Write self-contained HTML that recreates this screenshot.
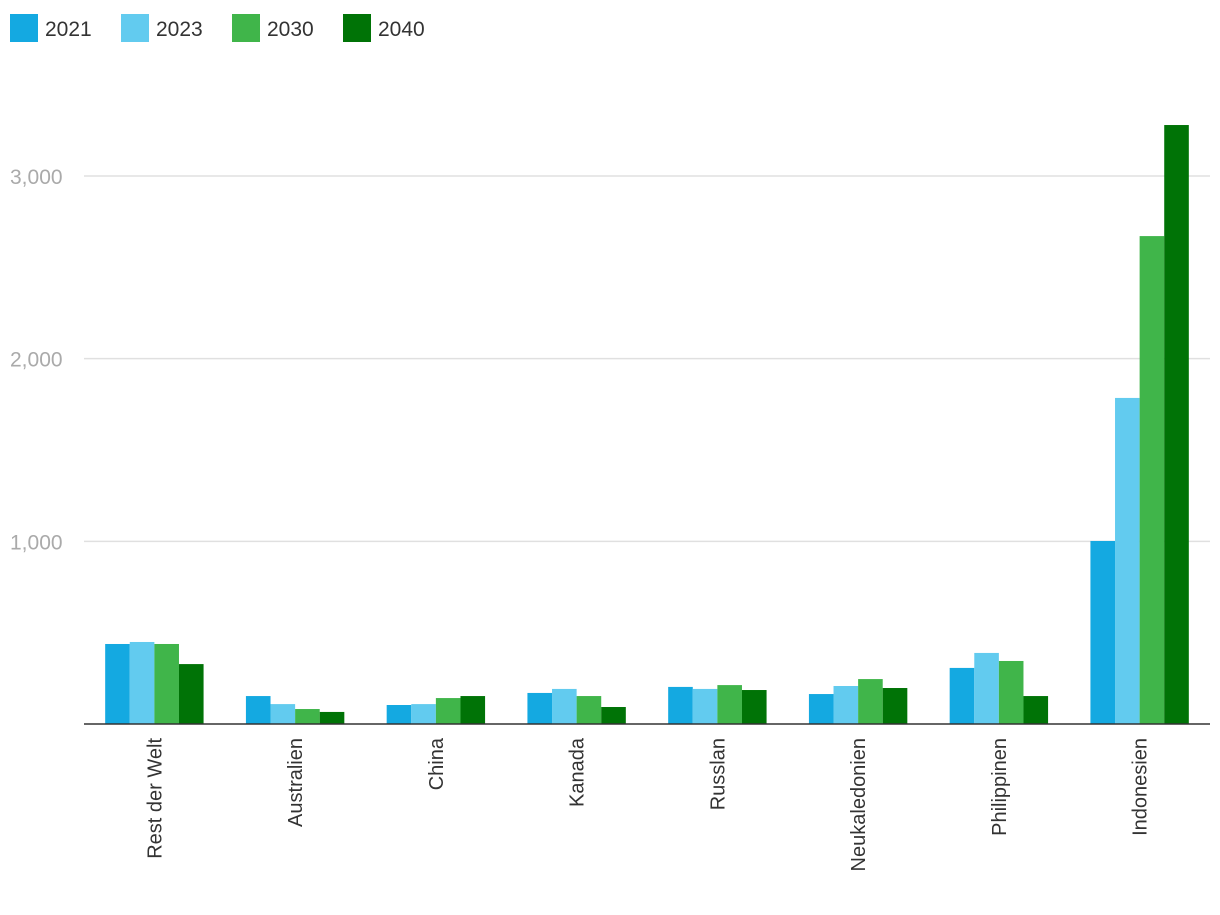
<!DOCTYPE html>
<html><head><meta charset="utf-8"><style>
body{margin:0;background:#fff;font-family:"Liberation Sans",sans-serif;}
svg text{font-family:"Liberation Sans",sans-serif;}
</style></head><body>
<svg id="chart" width="1220" height="910"></svg>
<script>
const categories=["Rest der Welt","Australien","China","Kanada","Russlan","Neukaledonien","Philippinen","Indonesien"];
const seriesNames=["2021","2023","2030","2040"];
const colors=["#14a9e1","#62cbef","#40b54a","#007306"];
const s2021=[438,153,104,170,203,164,307,1002];
const s2023=[449,109,109,192,192,208,389,1785];
const s2030=[438,82,142,153,213,246,345,2671];
const s2040=[328,66,153,93,186,197,153,3279];
const yTicks=[1000,2000,3000];
const yTickLabels=["1,000","2,000","3,000"];
const series=[s2021,s2023,s2030,s2040];
const NS="http://www.w3.org/2000/svg";
const svg=document.getElementById('chart');
const x0=84,x1=1210,y0=724,pxPer=0.18267;
const gw=(x1-x0)/categories.length,bw=24.6;
const yScale=v=>y0-v*pxPer;
function mk(t,a){const e=document.createElementNS(NS,t);for(const k in a)e.setAttribute(k,a[k]);svg.appendChild(e);return e;}
yTicks.forEach((v,i)=>{
 const l=mk('line',{x1:x0,x2:x1,y1:yScale(v),y2:yScale(v),stroke:'#e0e0e0','stroke-width':1.5});
 
 
 const t=mk('text',{x:10,y:yScale(v)+8,fill:'#aaaaaa','font-size':21});
 t.textContent=yTickLabels[i];
 
 
});
categories.forEach((c,ci)=>{
 const cx=x0+gw*(ci+0.5);
 series.forEach((s,si)=>{
  const r=mk('rect',{x:cx-2*bw+si*bw,y:yScale(s[ci]),width:bw,height:s[ci]*pxPer,fill:colors[si]});
  
  
 });
 const t=mk('text',{x:0,y:0,fill:'#333','font-size':20,'text-anchor':'end',transform:`translate(${cx+7},738) rotate(-90)`});
 t.textContent=c;
 
 
});
const ax=mk('line',{x1:x0,x2:x1,y1:y0,y2:y0,stroke:'#333','stroke-width':1.5});


const lx=[10,121,232,343];
seriesNames.forEach((n,i)=>{
 const r=mk('rect',{x:lx[i],y:14,width:28,height:28,fill:colors[i]});
 
 
 const t=mk('text',{x:lx[i]+35,y:36,fill:'#333','font-size':21});
 t.textContent=n;
 
 
});
</script>
</body></html>
